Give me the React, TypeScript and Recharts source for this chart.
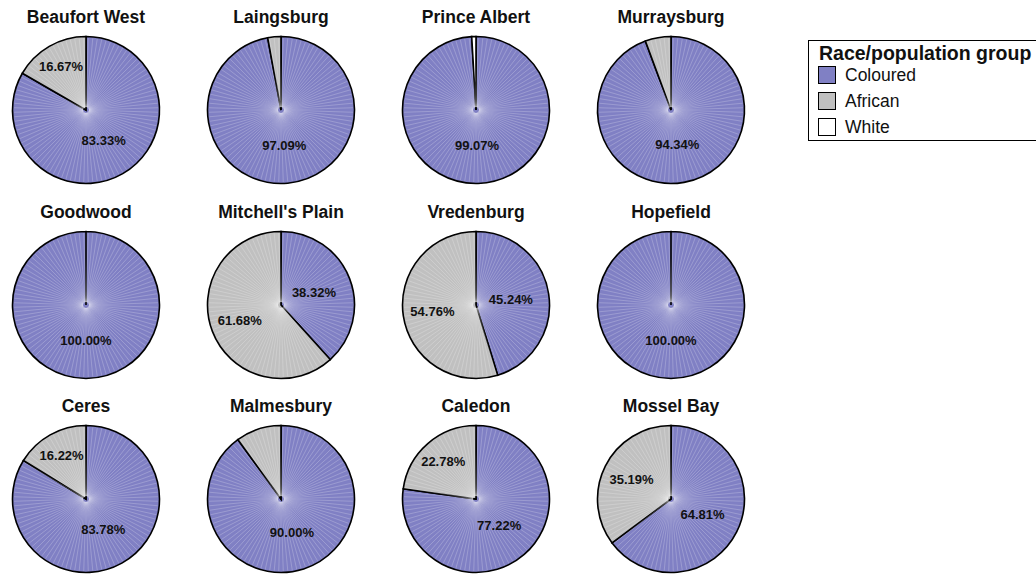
import { PieChart, Pie, Cell } from "recharts";

// Share of each race/population group per town (percent)
const towns = [
  "Beaufort West", "Laingsburg", "Prince Albert", "Murraysburg",
  "Goodwood", "Mitchell's Plain", "Vredenburg", "Hopefield",
  "Ceres", "Malmesbury", "Caledon", "Mossel Bay",
];
const coloured = [83.33, 97.09, 99.07, 94.34, 100.0, 38.32, 45.24, 100.0, 83.78, 90.0, 77.22, 64.81];
const african = [16.67, 2.91, 0, 5.66, 0, 61.68, 54.76, 0, 16.22, 10.0, 22.78, 35.19];
const white = [0, 0, 0.93, 0, 0, 0, 0, 0, 0, 0, 0, 0];

const groups = ["Coloured", "African", "White"];
const groupColors: Record<string, string> = {
  Coloured: "#8080c4",
  African: "#c0c0c0",
  White: "#ffffff",
};

const FONT = '"Liberation Sans", Arial, Helvetica, sans-serif';
const WIDTH = 1036;
const HEIGHT = 574;
const RADIUS = 73.5;
const COLS = [86, 281, 476, 671];
const ROWS = [110, 305, 499];
const SPOKES = 100;
const RAD = Math.PI / 180;

function townData(i: number) {
  const values = [coloured[i], african[i], white[i]];
  return groups
    .map((name, g) => ({ name, value: values[g] }))
    .filter((d) => d.value > 0);
}

// Radial hatching inside each slice plus the percentage text
function SliceLabel(props: any) {
  const { cx, cy, midAngle, startAngle, endAngle, outerRadius, value, index } = props;
  const hi = Math.max(startAngle, endAngle);
  const lo = Math.min(startAngle, endAngle);
  const step = 360 / SPOKES;
  const spokes = [];
  for (let k = 0; k < SPOKES; k++) {
    const a = 90 - step * (k + 0.5);
    if (a <= lo + 0.8 || a >= hi - 0.8) continue;
    const r0 = 3;
    const r = outerRadius - 1.5;
    const c = Math.cos(a * RAD);
    const s = Math.sin(a * RAD);
    spokes.push(
      <line
        key={k}
        x1={cx + r0 * c}
        y1={cy - r0 * s}
        x2={cx + r * c}
        y2={cy - r * s}
        stroke="#ffffff"
        strokeOpacity={0.4}
        strokeWidth={0.55}
      />
    );
  }

  let text = null;
  if (value >= 15) {
    const right = Math.cos(midAngle * RAD) >= -0.01;
    const d = outerRadius * (right ? 0.48 : value < 25 ? 0.68 : 0.6);
    const x = cx + d * Math.cos(midAngle * RAD);
    const y = cy - d * Math.sin(midAngle * RAD);
    text = (
      <text
        x={x}
        y={y}
        textAnchor="middle"
        dominantBaseline="central"
        fontFamily={FONT}
        fontWeight="bold"
        fontSize={13}
        fill="#111"
      >
        {`${value.toFixed(2)}%`}
      </text>
    );
  }

  return (
    <g key={`lbl-${index}`}>
      {spokes}
      {text}
    </g>
  );
}

export default function App() {
  return (
    <div
      style={{
        position: "absolute",
        left: 0,
        top: 0,
        width: WIDTH,
        height: HEIGHT,
        background: "#fff",
        fontFamily: FONT,
      }}
    >
      <PieChart width={WIDTH} height={HEIGHT} margin={{ top: 0, right: 0, bottom: 0, left: 0 }}>
        {towns.map((town, i) => {
          const data = townData(i);
          return (
            <Pie
              key={town}
              data={data}
              dataKey="value"
              nameKey="name"
              cx={COLS[i % 4]}
              cy={ROWS[Math.floor(i / 4)]}
              outerRadius={RADIUS}
              startAngle={90}
              endAngle={-270}
              stroke="#000"
              strokeWidth={1.6}
              label={SliceLabel}
              labelLine={false}
              isAnimationActive={false}
            >
              {data.map((d) => (
                <Cell key={d.name} fill={groupColors[d.name]} />
              ))}
            </Pie>
          );
        })}
      </PieChart>

      {/* town titles and group legend */}
      <svg
        width={WIDTH}
        height={HEIGHT}
        style={{ position: "absolute", left: 0, top: 0, pointerEvents: "none" }}
      >
        {towns.map((town, i) => (
          <text
            key={town}
            x={COLS[i % 4]}
            y={ROWS[Math.floor(i / 4)] - 87}
            textAnchor="middle"
            fontFamily={FONT}
            fontWeight="bold"
            fontSize={17.5}
            fill="#111"
          >
            {town}
          </text>
        ))}
        <rect x={808.5} y={40.5} width={240} height={100} fill="#fff" stroke="#000" strokeWidth={1} />
        <text x={819} y={60} fontFamily={FONT} fontWeight="bold" fontSize={19.5} fill="#111">
          Race/population group
        </text>
        {groups.map((g, k) => (
          <g key={g}>
            <rect
              x={818.5}
              y={66.5 + k * 26}
              width={17}
              height={17}
              fill={groupColors[g]}
              stroke="#000"
              strokeWidth={1}
            />
            <text x={845} y={81 + k * 26} fontFamily={FONT} fontSize={17.5} fill="#111">
              {g}
            </text>
          </g>
        ))}
      </svg>
    </div>
  );
}
